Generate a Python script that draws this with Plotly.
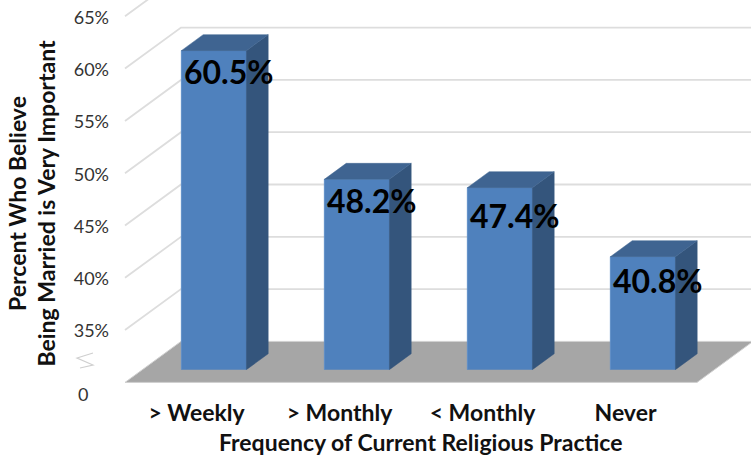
import plotly.graph_objects as go

# Survey values
categories = ["> Weekly", "> Monthly", "< Monthly", "Never"]
percent_very_important = [60.5, 48.2, 47.4, 40.8]
percent_labels = ["60.5%", "48.2%", "47.4%", "40.8%"]
y_ticks = [35, 40, 45, 50, 55, 60, 65]
y_tick_labels = ["35%", "40%", "45%", "50%", "55%", "60%", "65%"]
axis_floor = 30  # the broken axis starts here and is labelled 0

# Canvas and oblique projection
W, H = 751, 455
PX_PER_CAT = 143.0
PX_PER_PCT = 10.46
CAT0_PX = 196.5            # centre of the first category on the front edge of the floor
FLOOR_FRONT_PX = 382.4
DEPTH_DX = 56.0 / PX_PER_CAT   # full floor depth, in category units
DEPTH_DY = 41.0 / PX_PER_PCT   # full floor depth, in percentage points
BAR_FRONT = 0.31           # depth fraction of the bar front
BAR_BACK = 0.70
BAR_WIDTH = 65.0 / PX_PER_CAT
PLOT_LEFT, PLOT_BOTTOM = 110, 392

GRID = "#dddddd"
FLOOR = "#a6a6a6"
FRONT = "#4f81bd"
SIDE = "#34557c"
TOP = "#3f6491"
INK = "#111111"
TICK_INK = "#333333"
FONT = "Lato"


def project(cat, pct, depth):
    return cat + depth * DEPTH_DX, pct + depth * DEPTH_DY


def polygon(points):
    xs, ys = zip(*[project(*p) for p in points])
    return list(xs) + [xs[0]], list(ys) + [ys[0]]


x_range = [(PLOT_LEFT - CAT0_PX) / PX_PER_CAT, (W - CAT0_PX) / PX_PER_CAT]
y_range = [axis_floor - (PLOT_BOTTOM - FLOOR_FRONT_PX) / PX_PER_PCT,
           axis_floor + FLOOR_FRONT_PX / PX_PER_PCT]

fig = go.Figure()

# Floor of the chart box
fx, fy = polygon([(-0.5, axis_floor, 0), (3.5, axis_floor, 0),
                  (3.5, axis_floor, 1), (-0.5, axis_floor, 1)])
fig.add_trace(go.Scatter(x=fx, y=fy, mode="lines", fill="toself", fillcolor=FLOOR,
                         line=dict(color="#d0d0d0", width=1), hoverinfo="skip"))

# Gridlines: a diagonal on the side wall, then across the back wall
for tick in y_ticks:
    gx, gy = zip(*[project(-0.5, tick, 0), project(-0.5, tick, 1), project(3.5, tick, 1)])
    fig.add_trace(go.Scatter(x=gx, y=gy, mode="lines",
                             line=dict(color=GRID, width=1.8), hoverinfo="skip"))

# Column fronts sit on a second pair of axes, shifted to the plane of the bars,
# whose lower domain edge is the point where the columns meet the floor.
shift_x, shift_y = project(0, 0, BAR_FRONT)
bar_floor_px = FLOOR_FRONT_PX - shift_y * PX_PER_PCT
fig.add_trace(go.Bar(x=list(range(len(categories))), y=percent_very_important,
                     width=BAR_WIDTH, marker=dict(color=FRONT, line=dict(color="#5f8fc8", width=1)),
                     xaxis="x2", yaxis="y2", hovertemplate="%{y}%<extra></extra>"))

depth = BAR_BACK - BAR_FRONT
half = BAR_WIDTH / 2
for i, value in enumerate(percent_very_important):
    sx, sy = polygon([(i + half, axis_floor, 0), (i + half, value, 0),
                      (i + half, value, depth), (i + half, axis_floor, depth)])
    fig.add_trace(go.Scatter(x=sx, y=sy, mode="lines", fill="toself", fillcolor=SIDE,
                             line=dict(color=SIDE, width=0.5), xaxis="x2", yaxis="y2",
                             hoverinfo="skip"))
    tx, ty = polygon([(i - half, value, 0), (i + half, value, 0),
                      (i + half, value, depth), (i - half, value, depth)])
    fig.add_trace(go.Scatter(x=tx, y=ty, mode="lines", fill="toself", fillcolor=TOP,
                             line=dict(color=TOP, width=0.5), xaxis="x2", yaxis="y2",
                             hoverinfo="skip"))

# Value labels, placed near the top-left of each column front
label_drop_px = [21, 21, 28, 24]
annotations = [
    dict(x=i - half, y=value, xref="x2", yref="y2", text=f"<b>{label}</b>", showarrow=False,
         xanchor="left", yanchor="middle", xshift=1, yshift=-drop,
         font=dict(family=FONT, size=32, color="#000000"))
    for i, (value, label, drop) in enumerate(zip(percent_very_important, percent_labels, label_drop_px))
]

annotations += [
    # Lowest tick of the broken axis
    dict(x=83 / W, y=1 - 394 / H, xref="paper", yref="paper", text="0", showarrow=False,
         xanchor="center", yanchor="middle",
         font=dict(family=FONT, size=18, color=TICK_INK)),
    # Axis titles
    dict(x=420 / W, y=1 - 442 / H, xref="paper", yref="paper",
         text="<b>Frequency of Current Religious Practice</b>", showarrow=False,
         xanchor="center", yanchor="middle",
         font=dict(family=FONT, size=23, color=INK)),
    dict(x=32 / W, y=1 - 203.5 / H, xref="paper", yref="paper",
         text="<b>Percent Who Believe<br>Being Married is Very Important</b>", showarrow=False,
         xanchor="center", yanchor="middle", textangle=-90, align="center",
         font=dict(family=FONT, size=23, color=INK)),
]

# Break mark on the value axis
axis_break = dict(type="path", xref="paper", yref="paper",
                  path=f"M {93 / W} {1 - 353 / H} L {77 / W} {1 - 358 / H} "
                       f"L {93 / W} {1 - 365 / H} L {80 / W} {1 - 368 / H}",
                  line=dict(color="#cfcfcf", width=1.2))

left_frac = PLOT_LEFT / W
fig.update_layout(
    width=W, height=H,
    margin=dict(l=0, r=0, t=0, b=0, pad=0),
    paper_bgcolor="white", plot_bgcolor="rgba(0,0,0,0)",
    showlegend=False,
    annotations=annotations,
    shapes=[axis_break],
    xaxis=dict(domain=[left_frac, 1], range=x_range, showgrid=False, zeroline=False, showline=False,
               tickmode="array", tickvals=list(range(len(categories))), ticktext=[f"<b>{c}</b>" for c in categories],
               ticks="outside", ticklen=0, tickcolor="rgba(0,0,0,0)",
               tickfont=dict(family=FONT, size=23, color=INK)),
    yaxis=dict(domain=[1 - PLOT_BOTTOM / H, 1], range=y_range, showgrid=False, zeroline=False, showline=False,
               tickmode="array", tickvals=y_ticks, ticktext=y_tick_labels, ticklabelshift=1,
               ticks="", tickfont=dict(family=FONT, size=18, color=TICK_INK)),
    xaxis2=dict(domain=[left_frac, 1], range=[x_range[0] - shift_x, x_range[1] - shift_x],
                overlaying="x", anchor="y2", visible=False),
    yaxis2=dict(domain=[1 - bar_floor_px / H, 1], range=[axis_floor, axis_floor + bar_floor_px / PX_PER_PCT],
                anchor="x2", visible=False),
)

fig.write_html("out.html")
